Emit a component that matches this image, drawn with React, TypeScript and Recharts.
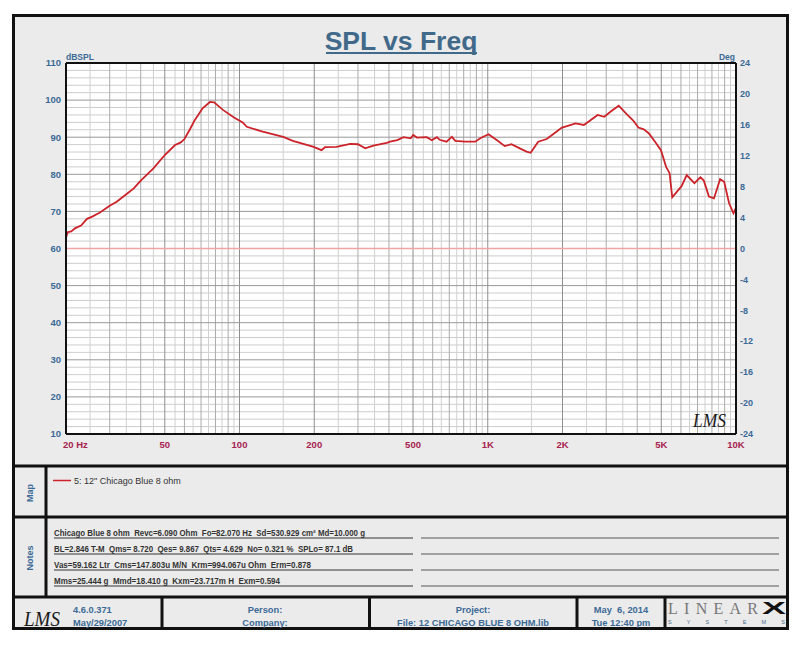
import React from 'react';
import { LineChart, Line, XAxis, YAxis, CartesianGrid, ReferenceLine } from 'recharts';

// SPL curve (Hz, dB)
const freqs = [
  20, 20.3, 21, 21.8, 23, 24.3, 25.5, 27.4, 30, 32, 35, 37.5, 40, 45, 50, 55, 58, 60, 63, 66,
  71, 76, 79, 86, 95, 103, 107, 121, 124, 150, 164, 199, 214, 221, 246, 279, 300, 321, 346, 392,
  404, 432, 458, 489, 501, 518, 568, 595, 624, 640, 682, 717, 740, 812, 890, 933, 1007, 1090, 1171, 1245,
  1346, 1433, 1488, 1597, 1728, 1867, 1989, 2086, 2254, 2440, 2771, 2947, 3139, 3370, 3619, 3855, 4045, 4250, 4460, 4750,
  4985, 5230, 5400, 5535, 6035, 6330, 6800, 7190, 7420, 7780, 8150, 8630, 8960, 9380, 9770, 10000,
];
const spl = [
  62.8, 64.4, 64.6, 65.5, 66.2, 68.0, 68.6, 69.7, 71.5, 72.6, 74.6, 76.2, 78.3, 81.6, 85.2, 87.9, 88.6, 89.5, 92.0, 94.6,
  97.8, 99.5, 99.4, 97.3, 95.3, 94.0, 92.8, 91.7, 91.5, 90.1, 89.0, 87.4, 86.5, 87.3, 87.4, 88.2, 88.1, 87.0, 87.7, 88.5,
  88.8, 89.2, 90.0, 89.7, 90.6, 89.9, 90.0, 89.2, 90.0, 89.3, 88.8, 90.1, 89.0, 88.8, 88.8, 89.7, 90.8, 89.2, 87.6, 88.1,
  87.0, 86.1, 85.8, 88.8, 89.5, 91.2, 92.6, 93.0, 93.7, 93.3, 96.0, 95.5, 97.0, 98.5, 96.3, 94.5, 92.6, 92.1, 91.0, 88.5,
  86.5, 82.0, 80.3, 73.8, 76.8, 79.8, 77.6, 79.2, 78.3, 74.0, 73.5, 78.7, 78.0, 72.2, 69.5, 71.0,
];

const xTicks = [20, 50, 100, 200, 500, 1000, 2000, 5000, 10000];
const xTickLabels = ['20\u00a0Hz', '50', '100', '200', '500', '1K', '2K', '5K', '10K'];
const splTicks = [10, 20, 30, 40, 50, 60, 70, 80, 90, 100, 110];
const degTicks = [-24, -20, -16, -12, -8, -4, 0, 4, 8, 12, 16, 20, 24];

// log grid
const gridFreqs = [
  30, 40, 60, 70, 80, 90, 300, 400, 600, 700, 800, 900, 3000, 4000, 6000, 7000, 8000, 9000,
];
const gridFreqsHalf = [
  25, 35, 45, 55, 65, 75, 85, 95, 150, 250, 350, 450, 550, 650, 750, 850, 950,
  1500, 2500, 3500, 4500, 5500, 6500, 7500, 8500, 9500,
];
const gridFreqsLabeled = [50, 100, 200, 500, 1000, 2000, 5000];
const gridDbMajor = [20, 30, 40, 50, 60, 70, 80, 90, 100];
const gridDbMinor = [
  12, 14, 16, 18, 22, 24, 26, 28, 32, 34, 36, 38, 42, 44, 46, 48, 52, 54, 56, 58,
  62, 64, 66, 68, 72, 74, 76, 78, 82, 84, 86, 88, 92, 94, 96, 98, 102, 104, 106, 108,
];

const noteRows = [
  'Chicago Blue 8 ohm  Revc=6.090 Ohm  Fo=82.070 Hz  Sd=530.929 cm\u00b2 Md=10.000 g',
  'BL=2.846 T-M  Qms= 8.720  Qes= 9.867  Qts= 4.629  No= 0.321 %  SPLo= 87.1 dB',
  'Vas=59.162 Ltr  Cms=147.803u M/N  Krm=994.067u Ohm  Erm=0.878',
  'Mms=25.444 g  Mmd=18.410 g  Kxm=23.717m H  Exm=0.594',
];
const noteWidths = [311, 299, 257, 226];

const data = freqs.map((f, i) => ({ f, spl: spl[i] }));

const SANS = '"Liberation Sans", Arial, sans-serif';
const SERIF = '"Liberation Serif", serif';
const BLUE = '#3b6a96';
const RED = '#cc2229';

const FreqTick = (props: any) => {
  const { x, y, payload } = props;
  const i = xTicks.indexOf(payload.value);
  const first = payload.value === 20;
  return (
    <text
      x={first ? x - 3 : x}
      y={y}
      dy="0.71em"
      textAnchor={first ? 'start' : 'middle'}
      fill="#a8224f"
      fontSize={9.5}
      fontWeight="bold"
      fontFamily={SANS}
    >
      {xTickLabels[i]}
    </text>
  );
};

const Background = () => (
  <svg width={800} height={648} style={{ position: 'absolute', left: 0, top: 0 }}>
    <rect x={0} y={0} width={800} height={648} fill="#fff" />
    <rect x={13.5} y={15.5} width={774} height={613} fill="#ebebeb" stroke="#111" strokeWidth={3} />
    <line x1={12} x2={789} y1={466} y2={466} stroke="#111" strokeWidth={3} />
    <line x1={12} x2={789} y1={517} y2={517} stroke="#111" strokeWidth={3} />
    <line x1={12} x2={789} y1={597} y2={597} stroke="#111" strokeWidth={3} />
    <line x1={46} x2={46} y1={466} y2={597} stroke="#111" strokeWidth={3} />
    {[162, 369.5, 577, 665].map((x) => (
      <line key={x} x1={x} x2={x} y1={597} y2={630} stroke="#111" strokeWidth={3} />
    ))}

    <text x={401} y={50} textAnchor="middle" fontFamily={SANS} fontWeight="bold" fontSize={26.5} fill="#41698a">
      SPL vs Freq
    </text>
    <line x1={326} x2={477} y1={53} y2={53} stroke="#41698a" strokeWidth={2.2} />

    <text x={66} y={60} fontFamily={SANS} fontWeight="bold" fontSize={8.5} fill={BLUE}>dBSPL</text>
    <text x={735} y={60} textAnchor="end" fontFamily={SANS} fontWeight="bold" fontSize={8.5} fill={BLUE}>Deg</text>

    <text transform="translate(33,493) rotate(-90)" textAnchor="middle" fontFamily={SANS} fontWeight="bold" fontSize={9} fill={BLUE}>Map</text>
    <text transform="translate(33,558) rotate(-90)" textAnchor="middle" fontFamily={SANS} fontWeight="bold" fontSize={9} fill={BLUE}>Notes</text>

    <line x1={53} x2={71} y1={480.5} y2={480.5} stroke={RED} strokeWidth={1.5} />
    <text x={74} y={484} fontFamily={SANS} fontSize={9} fill="#333">5: 12" Chicago Blue 8 ohm</text>

    {noteRows.map((row, i) => (
      <g key={i}>
        <text
          x={54}
          y={536 + i * 16}
          fontFamily={SANS}
          fontWeight="bold"
          fontSize={8.6}
          fill="#333"
          textLength={noteWidths[i]}
          lengthAdjust="spacingAndGlyphs"
          style={{ whiteSpace: 'pre' }}
        >
          {row}
        </text>
        <line x1={54} x2={413} y1={538 + i * 16} y2={538 + i * 16} stroke="#333" strokeWidth={1} />
        <line x1={421} x2={779} y1={538 + i * 16} y2={538 + i * 16} stroke="#555" strokeWidth={1} />
      </g>
    ))}

    <text x={24} y={626} fontFamily={SERIF} fontStyle="italic" fontSize={22} fill="#1a1a1a" textLength={36} lengthAdjust="spacingAndGlyphs">LMS</text>
    <text x={73} y={613} fontFamily={SANS} fontWeight="bold" fontSize={9.3} fill={BLUE}>4.6.0.371</text>
    <text x={73} y={625.5} fontFamily={SANS} fontWeight="bold" fontSize={9.3} fill={BLUE}>May/29/2007</text>
    <text x={265} y={613} textAnchor="middle" fontFamily={SANS} fontWeight="bold" fontSize={9.3} fill={BLUE}>Person:</text>
    <text x={265} y={625.5} textAnchor="middle" fontFamily={SANS} fontWeight="bold" fontSize={9.3} fill={BLUE}>Company:</text>
    <text x={473} y={613} textAnchor="middle" fontFamily={SANS} fontWeight="bold" fontSize={9.3} fill={BLUE}>Project:</text>
    <text x={473} y={625.5} textAnchor="middle" fontFamily={SANS} fontWeight="bold" fontSize={9.3} fill={BLUE}>File: 12 CHICAGO BLUE 8 OHM.lib</text>
    <text x={621} y={613} textAnchor="middle" fontFamily={SANS} fontWeight="bold" fontSize={9.3} fill={BLUE} style={{ whiteSpace: 'pre' }}>May  6, 2014</text>
    <text x={621} y={625.5} textAnchor="middle" fontFamily={SANS} fontWeight="bold" fontSize={9.3} fill={BLUE}>Tue 12:40 pm</text>

    <text x={668} y={614} fontFamily={SERIF} fontSize={16} fill="#777" textLength={90} lengthAdjust="spacing">LINEAR</text>
    <text x={762} y={614} fontFamily={SANS} fontWeight="bold" fontSize={17} fill="#111" textLength={24} lengthAdjust="spacingAndGlyphs">X</text>
    <text x={668} y={624} fontFamily={SANS} fontSize={5.5} fill="#4a6a8a" textLength={117} lengthAdjust="spacing">SYSTEMS</text>
  </svg>
);

export default function App() {
  return (
    <div style={{ position: 'absolute', left: 0, top: 0, width: 800, height: 648, overflow: 'hidden' }}>
      <Background />
      <div style={{ position: 'absolute', left: 0, top: 0 }}>
        <LineChart width={800} height={648} data={data} margin={{ top: 63, right: 0, bottom: 194, left: 0 }}>
          <CartesianGrid fill="#fff" horizontal={false} vertical={false} yAxisId="left" />
          <XAxis
            dataKey="f"
            type="number"
            scale="log"
            domain={[20, 10000]}
            allowDataOverflow
            ticks={xTicks}
            interval={0}
            tick={<FreqTick />}
            tickLine={false}
            tickSize={5}
            height={20}
            axisLine={{ stroke: '#111', strokeWidth: 2 }}
          />
          <YAxis
            yAxisId="left"
            domain={[10, 110]}
            ticks={splTicks}
            interval={0}
            allowDataOverflow
            width={66}
            tickLine={false}
            tickSize={3}
            axisLine={{ stroke: '#111', strokeWidth: 2 }}
            tick={{ fill: BLUE, fontSize: 9.5, fontWeight: 'bold', fontFamily: SANS }}
          />
          <YAxis
            yAxisId="right"
            orientation="right"
            domain={[-24, 24]}
            ticks={degTicks}
            interval={0}
            allowDataOverflow
            width={64}
            tickLine={false}
            tickSize={2}
            axisLine={{ stroke: '#111', strokeWidth: 2 }}
            tick={{ fill: BLUE, fontSize: 9, fontWeight: 'bold', fontFamily: SANS }}
          />
          {gridDbMinor.map((v) => (
            <ReferenceLine key={`hm${v}`} yAxisId="left" y={v} stroke="#cdcdcd" strokeWidth={1} />
          ))}
          {gridFreqsHalf.map((v) => (
            <ReferenceLine key={`vh${v}`} yAxisId="left" x={v} stroke="#d0d0d0" strokeWidth={1} />
          ))}
          {gridFreqs.map((v) => (
            <ReferenceLine key={`v${v}`} yAxisId="left" x={v} stroke="#ababab" strokeWidth={1} />
          ))}
          {gridFreqsLabeled.map((v) => (
            <ReferenceLine key={`vl${v}`} yAxisId="left" x={v} stroke="#8e8e8e" strokeWidth={1} />
          ))}
          {gridDbMajor.map((v) => (
            <ReferenceLine key={`hM${v}`} yAxisId="left" y={v} stroke="#999" strokeWidth={1} />
          ))}
          <ReferenceLine yAxisId="right" y={0} stroke="#f2a4a4" strokeWidth={1.3} />
          <ReferenceLine yAxisId="left" y={110} stroke="#111" strokeWidth={2} />
          <Line
            yAxisId="left"
            dataKey="spl"
            type="linear"
            stroke={RED}
            strokeWidth={1.8}
            dot={false}
            isAnimationActive={false}
          />
        </LineChart>
      </div>
      <svg width={800} height={648} style={{ position: 'absolute', left: 0, top: 0, pointerEvents: 'none' }}>
        <text x={693} y={427} fontFamily={SERIF} fontStyle="italic" fontSize={18} fill="#1a1a1a" textLength={33} lengthAdjust="spacingAndGlyphs">LMS</text>
      </svg>
    </div>
  );
}
